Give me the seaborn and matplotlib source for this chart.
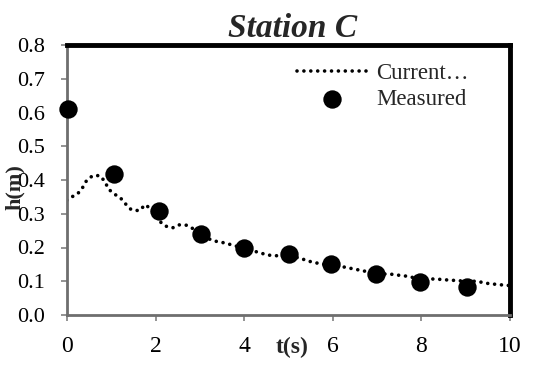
import matplotlib
matplotlib.use("Agg")
import matplotlib.pyplot as plt
import seaborn as sns
import pandas as pd

# Data
meas_t = [0.03, 1.05, 2.08, 3.02, 3.99, 5.0, 5.96, 6.97, 7.97, 9.02]
meas_h = [0.610, 0.418, 0.309, 0.240, 0.198, 0.181, 0.150, 0.121, 0.099, 0.084]

line_t = [0.0, 0.08, 0.24, 0.35, 0.44, 0.58, 0.74, 0.86, 0.93, 1.06, 1.20, 1.33,
          1.45, 1.63, 1.77, 1.88, 1.99, 2.08, 2.21, 2.38, 2.53, 2.70, 2.87, 3.05,
          3.30, 3.54, 3.80, 4.0, 4.21, 4.38, 4.58, 4.8, 5.0, 5.26, 5.41, 5.60,
          5.8, 6.0, 6.31, 6.48, 6.65, 6.85, 7.0, 7.31, 7.48, 7.67, 7.85, 8.0,
          8.19, 8.38, 8.57, 8.8, 9.0, 9.25, 9.47, 9.74, 9.93, 10.0]
line_h = [0.340, 0.348, 0.359, 0.377, 0.398, 0.413, 0.413, 0.395, 0.374, 0.359,
          0.348, 0.328, 0.312, 0.309, 0.327, 0.315, 0.297, 0.279, 0.264, 0.258,
          0.267, 0.266, 0.254, 0.235, 0.220, 0.214, 0.205, 0.197, 0.190, 0.183,
          0.177, 0.175, 0.174, 0.169, 0.161, 0.155, 0.150, 0.147, 0.141, 0.136,
          0.132, 0.126, 0.122, 0.121, 0.118, 0.115, 0.110, 0.108, 0.107, 0.106,
          0.104, 0.102, 0.100, 0.100, 0.094, 0.090, 0.088, 0.087]

x_ticks = [0, 2, 4, 6, 8, 10]
y_ticks = [0.0, 0.1, 0.2, 0.3, 0.4, 0.5, 0.6, 0.7, 0.8]

sns.set_theme(style="white")
plt.rcParams['font.family'] = ['Liberation Serif', 'DejaVu Serif']

fig = plt.figure(figsize=(5.34, 3.65), dpi=100)
ax = fig.add_axes([67/534, 1-315/365, (510-67)/534, (315-45)/365])

df_line = pd.DataFrame({"t": line_t, "h": line_h})
df_meas = pd.DataFrame({"t": meas_t, "h": meas_h})

sns.lineplot(data=df_line, x="t", y="h", ax=ax, color="black", linewidth=2.6,
             linestyle=(0, (0.01, 1.9)), dash_capstyle="round",
             estimator=None, sort=False, label="Current\u2026")
for l in ax.get_lines():
    l.set_dash_capstyle("round")
sns.scatterplot(data=df_meas, x="t", y="h", ax=ax, color="black", s=175,
                edgecolor="black", linewidth=0, label="Measured", zorder=5,
                clip_on=False)

ax.set_xlim(0, 10)
ax.set_ylim(0, 0.8)
ax.set_xticks(x_ticks)
ax.set_yticks(y_ticks)
ax.set_xticklabels([str(v) for v in x_ticks])
ax.set_yticklabels([f"{v:.1f}" for v in y_ticks])
ax.tick_params(axis="both", direction="out", length=4, width=1.2,
               color="#808080", labelcolor="black")
ax.tick_params(axis="y", pad=12, left=True, labelsize=16)
ax.tick_params(axis="x", pad=11, bottom=True, labelsize=17)

for side in ["left", "bottom"]:
    ax.spines[side].set_color("#6e6e6e")
    ax.spines[side].set_linewidth(2.0)
for side in ["top", "right"]:
    ax.spines[side].set_color("black")
    ax.spines[side].set_linewidth(3.5)
    ax.spines[side].set_visible(True)

ax.set_xlabel("t(s)", fontsize=17, fontweight="bold")
ax.xaxis.set_label_coords(0.508, -0.08)
ax.set_ylabel("h(m)", fontsize=16, fontweight="bold")
ax.yaxis.set_label_coords(-0.095, 0.474)

ax.set_title("Station C", fontsize=24, fontweight="bold", style="italic",
             pad=6, x=0.51)

leg = ax.legend(loc="upper left", bbox_to_anchor=(0.52, 0.935), frameon=False,
                fontsize=16.5, handlelength=3.0, handletextpad=0.45,
                borderpad=0, borderaxespad=0, labelspacing=0.25)

fig.savefig("out.png", dpi=100)
